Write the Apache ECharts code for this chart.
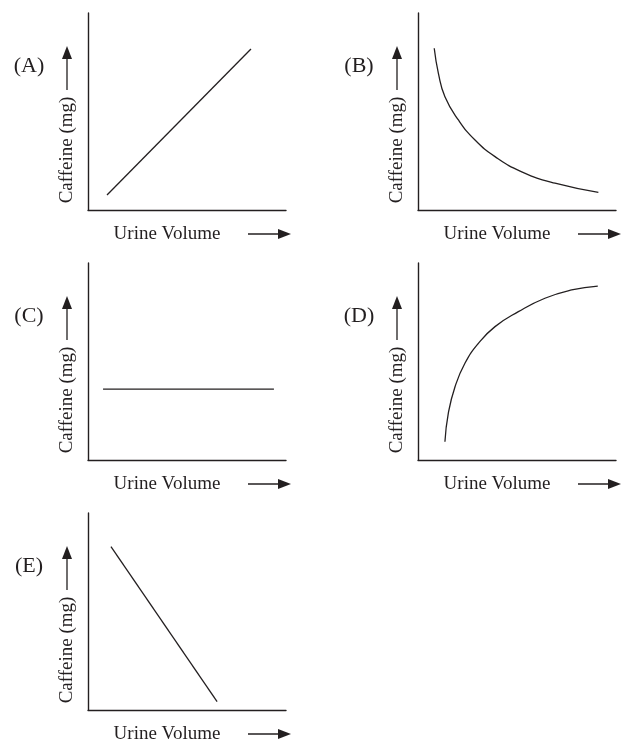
<!DOCTYPE html>
<html>
<head>
<meta charset="utf-8">
<script src="https://cdn.jsdelivr.net/npm/echarts@6/dist/echarts.min.js"></script>
<style>
  html, body { margin: 0; padding: 0; background: #fff; }
</style>
</head>
<body>
<div id="myChart" style="width: 622px; height: 739px;"></div>
<script>
// panel letters and axis titles
const panelLabels = ['(A)', '(B)', '(C)', '(D)', '(E)'];
const xAxisTitle = 'Urine Volume';
const yAxisTitle = 'Caffeine (mg)';

// curve points, [urine volume, caffeine] on a 0-10 scale
const seriesA = [[0.96, 0.76], [8.23, 8.17]];
const seriesB = [[0.82, 8.21], [1.03, 6.94], [1.36, 5.75], [2.04, 4.57], [2.88, 3.55],
                 [3.89, 2.71], [5.24, 1.94], [6.92, 1.36], [9.11, 0.90]];
const seriesC = [[0.76, 3.6], [9.39, 3.6]];
const seriesD = [[1.36, 0.93], [1.53, 2.37], [1.87, 3.72], [2.37, 4.91], [3.05, 5.92],
                 [3.89, 6.77], [5.07, 7.53], [6.41, 8.21], [7.76, 8.63], [9.08, 8.83]];
const seriesE = [[1.16, 8.29], [6.52, 0.42]];

const panelData = [seriesA, seriesB, seriesC, seriesD, seriesE];
const panelSmooth = [false, true, false, true, false];

// layout of each panel: left edge of y axis, y of x axis
const panelPos = [[88, 210], [418, 210], [88, 460], [418, 460], [88, 710]];
const plotW = 198;
const plotH = 197;

const ink = '#231f20';
const serif = '"Liberation Serif", "Times New Roman", serif';

let grids = [], xAxes = [], yAxes = [], series = [], graphics = [];

panelPos.forEach(function (p, i) {
    const left = p[0], bottom = p[1];
    grids.push({ left: left, top: bottom - plotH, width: plotW, height: plotH });
    const axisCommon = {
        type: 'value', gridIndex: i, min: 0, max: 10,
        axisLine: { show: true, lineStyle: { color: ink, width: 1.4 } },
        axisTick: { show: false }, axisLabel: { show: false }, splitLine: { show: false }
    };
    xAxes.push(Object.assign({}, axisCommon));
    yAxes.push(Object.assign({}, axisCommon));
    series.push({
        type: 'line', xAxisIndex: i, yAxisIndex: i,
        data: panelData[i], symbol: 'none',
        smooth: panelSmooth[i] ? 0.5 : false,
        lineStyle: { color: ink, width: 1.3 },
        silent: true, animation: false
    });

    // panel letter
    graphics.push({
        type: 'text', x: left - 59, y: bottom - 144,
        style: { text: panelLabels[i], fill: ink, font: '22px ' + serif, align: 'center', verticalAlign: 'middle' }
    });
    // y title, reads bottom to top
    graphics.push({
        type: 'text', x: left - 21, y: bottom - 60, rotation: Math.PI / 2,
        style: { text: yAxisTitle, fill: ink, font: '19px ' + serif, align: 'center', verticalAlign: 'middle' }
    });
    // y arrow
    graphics.push({
        type: 'line', shape: { x1: left - 21, y1: bottom - 120, x2: left - 21, y2: bottom - 156 },
        style: { stroke: ink, lineWidth: 1.3 }
    });
    graphics.push({
        type: 'polygon',
        shape: { points: [[left - 21, bottom - 164], [left - 26, bottom - 151], [left - 16, bottom - 151]] },
        style: { fill: ink }
    });
    // x title
    graphics.push({
        type: 'text', x: left + 79, y: bottom + 24,
        style: { text: xAxisTitle, fill: ink, font: '19px ' + serif, align: 'center', verticalAlign: 'middle' }
    });
    // x arrow
    graphics.push({
        type: 'line', shape: { x1: left + 160, y1: bottom + 24, x2: left + 195, y2: bottom + 24 },
        style: { stroke: ink, lineWidth: 1.3 }
    });
    graphics.push({
        type: 'polygon',
        shape: { points: [[left + 203, bottom + 24], [left + 190, bottom + 19], [left + 190, bottom + 29]] },
        style: { fill: ink }
    });
});

const myChart = echarts.init(document.getElementById('myChart'), null, { renderer: 'canvas' });
myChart.setOption({
    animation: false,
    backgroundColor: '#fff',
    grid: grids,
    xAxis: xAxes,
    yAxis: yAxes,
    series: series,
    graphic: graphics
});
</script>
</body>
</html>
